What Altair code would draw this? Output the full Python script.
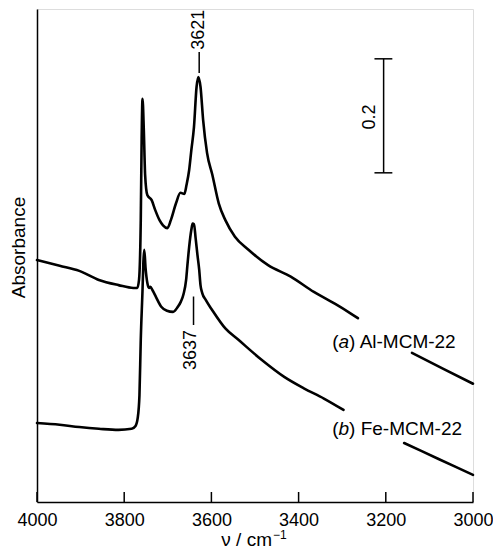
import altair as alt
import pandas as pd

# ---- spectrum (a) Al-MCM-22 ----
a_wn = [4000, 3948, 3903, 3858, 3813, 3779, 3770, 3766, 3762, 3760, 3758, 3755, 3752, 3747,
        3737, 3729, 3719, 3711, 3701, 3693, 3681, 3671, 3662, 3657, 3651, 3646, 3640, 3634,
        3630, 3625, 3619, 3610, 3598, 3583, 3568, 3546, 3515, 3470, 3418, 3365, 3316,
        3282, 3264,
        3140, 3068, 3000]
a_abs = [0.435, 0.425, 0.416, 0.400, 0.391, 0.386, 0.386, 0.400, 0.505, 0.646, 0.718, 0.663,
         0.584, 0.549, 0.540, 0.523, 0.505, 0.496, 0.491, 0.505, 0.535, 0.553, 0.551, 0.567,
         0.593, 0.628, 0.668, 0.739, 0.756, 0.739, 0.681, 0.623, 0.585, 0.534, 0.505,
         0.476, 0.453, 0.426, 0.406, 0.379, 0.358, 0.342, 0.333,
         0.272, 0.244, 0.218]
a_break = 3200  # the trace is interrupted by its label below this wavenumber

# ---- spectrum (b) Fe-MCM-22 ----
b_wn = [4000, 3948, 3903, 3858, 3813, 3783, 3774, 3769, 3765, 3762, 3758, 3756, 3754, 3751,
        3747, 3743, 3740, 3735, 3727, 3715, 3702, 3688, 3677, 3670, 3664, 3658, 3655, 3651,
        3646, 3643, 3640, 3636, 3632, 3628, 3625, 3621, 3613, 3598, 3568, 3538, 3485, 3433,
        3388, 3342, 3297,
        3158, 3079, 3000]
b_abs = [0.149, 0.146, 0.142, 0.139, 0.137, 0.139, 0.144, 0.158, 0.198, 0.295, 0.382, 0.432,
         0.453, 0.421, 0.395, 0.386, 0.388, 0.382, 0.370, 0.353, 0.346, 0.344, 0.353, 0.362,
         0.375, 0.400, 0.426, 0.458, 0.488, 0.499, 0.498, 0.472, 0.444, 0.418, 0.391, 0.377,
         0.365, 0.347, 0.315, 0.295, 0.260, 0.230, 0.210, 0.192, 0.172,
         0.114, 0.086, 0.058]
b_break = 3200

# ---- axis ----
x_ticks = [4000, 3800, 3600, 3400, 3200, 3000]
y_domain = [0.0105, 0.8754]

# ---- annotations ----
peak_text = ["3621", "3637", "0.2"]
peak_wn = [3628, 3646, 3236]
peak_abs = [0.839, 0.277, 0.686]

peak_line_wn = [3628, 3641, 3205]
peak_line_y1 = [0.800, 0.371, 0.588]
peak_line_y2 = [0.763, 0.321, 0.788]

cap_wn1 = [3226, 3226]
cap_wn2 = [3185, 3185]
cap_abs = [0.788, 0.588]

lab_wn = [3323, 3323]
lab_abs = [0.291, 0.139]
lab_open = ["(", "("]
lab_letter = ["a", "b"]
lab_rest = [") Al-MCM-22", ") Fe-MCM-22"]

x_title_main = "ν / cm"
x_title_sup = "−1"

FONT = "Liberation Sans"

rows = []
for i, (w, v) in enumerate(zip(a_wn, a_abs)):
    rows.append({"wn": w, "abs": v, "key": "a0" if w > a_break else "a1", "i": i})
for i, (w, v) in enumerate(zip(b_wn, b_abs)):
    rows.append({"wn": w, "abs": v, "key": "b0" if w > b_break else "b1", "i": i})
spec = pd.DataFrame(rows)

W, H = 436, 493
xs = alt.Scale(domain=[3000, 4000], reverse=True, nice=False, zero=False)
ys = alt.Scale(domain=y_domain, nice=False, zero=False)

x_axis = alt.Axis(values=x_ticks, format="d", ticks=False, tickSize=0, grid=False,
                  domainColor="black", domainWidth=1.5, labelFontSize=18, labelColor="black",
                  labelFont=FONT, labelPadding=9, labelFlush=False, labelOverlap=False,
                  labelBound=False, title=None)
y_axis = alt.Axis(ticks=False, labels=False, grid=False, domainColor="black", domainWidth=1.5,
                  title="Absorbance", titleFont=FONT, titleFontSize=19, titleFontWeight="normal",
                  titleColor="black", titleAngle=270, titleAlign="center",
                  titleBaseline="middle", titleX=-19, titleY=238)

lines = alt.Chart(spec).mark_line(color="black", strokeWidth=2.6, strokeJoin="round",
                                  strokeCap="round", interpolate="monotone").encode(
    x=alt.X("wn:Q", scale=xs, axis=x_axis),
    y=alt.Y("abs:Q", scale=ys, axis=y_axis),
    detail="key:N",
    order="i:Q",
)

ticks = alt.Chart(pd.DataFrame({"wn": x_ticks})).mark_rule(color="black", strokeWidth=1.5).encode(
    x=alt.X("wn:Q", scale=xs), y=alt.value(H), y2=alt.value(H - 10))

pl = pd.DataFrame({"wn": peak_line_wn, "y1": peak_line_y1, "y2": peak_line_y2})
plines = alt.Chart(pl).mark_rule(color="black", strokeWidth=1.5).encode(
    x=alt.X("wn:Q", scale=xs), y=alt.Y("y1:Q", scale=ys), y2="y2:Q")

cp = pd.DataFrame({"w1": cap_wn1, "w2": cap_wn2, "y": cap_abs})
caps = alt.Chart(cp).mark_rule(color="black", strokeWidth=1.5).encode(
    x=alt.X("w1:Q", scale=xs), x2="w2:Q", y=alt.Y("y:Q", scale=ys))

pt = pd.DataFrame({"wn": peak_wn, "y": peak_abs, "t": peak_text})
ptext = alt.Chart(pt).mark_text(angle=270, align="center", baseline="middle", fontSize=18,
                                font=FONT, color="black").encode(
    x=alt.X("wn:Q", scale=xs), y=alt.Y("y:Q", scale=ys), text="t:N")

lb = pd.DataFrame({"wn": lab_wn, "y": lab_abs, "o": lab_open, "l": lab_letter, "r": lab_rest})
base_lab = alt.Chart(lb).encode(x=alt.X("wn:Q", scale=xs), y=alt.Y("y:Q", scale=ys))
t1 = base_lab.mark_text(align="left", baseline="middle", fontSize=19, font=FONT,
                        color="black").encode(text="o:N")
t2 = base_lab.mark_text(align="left", baseline="middle", fontSize=19, font=FONT,
                        fontStyle="italic", color="black", dx=6.3).encode(text="l:N")
t3 = base_lab.mark_text(align="left", baseline="middle", fontSize=19, font=FONT,
                        color="black", dx=16.9).encode(text="r:N")

tt = pd.DataFrame({"m": [x_title_main], "s": [x_title_sup]})
title_main = alt.Chart(tt).mark_text(align="right", baseline="alphabetic", fontSize=19,
                                     font=FONT, color="black").encode(
    text="m:N", x=alt.value(235), y=alt.value(H + 44))
title_sup = alt.Chart(tt).mark_text(align="left", baseline="alphabetic", fontSize=12,
                                    font=FONT, color="black").encode(
    text="s:N", x=alt.value(236), y=alt.value(H + 37))

chart = alt.layer(lines, ticks, plines, caps, ptext, t1, t2, t3, title_main, title_sup).properties(
    width=W, height=H,
    autosize=alt.AutoSizeParams(type="none"),
    padding={"left": 29, "top": 1, "right": 20, "bottom": 47},
).configure_view(stroke=None).configure(background="white")

chart.save("out.html", embed_options={"renderer": "svg", "actions": False})
